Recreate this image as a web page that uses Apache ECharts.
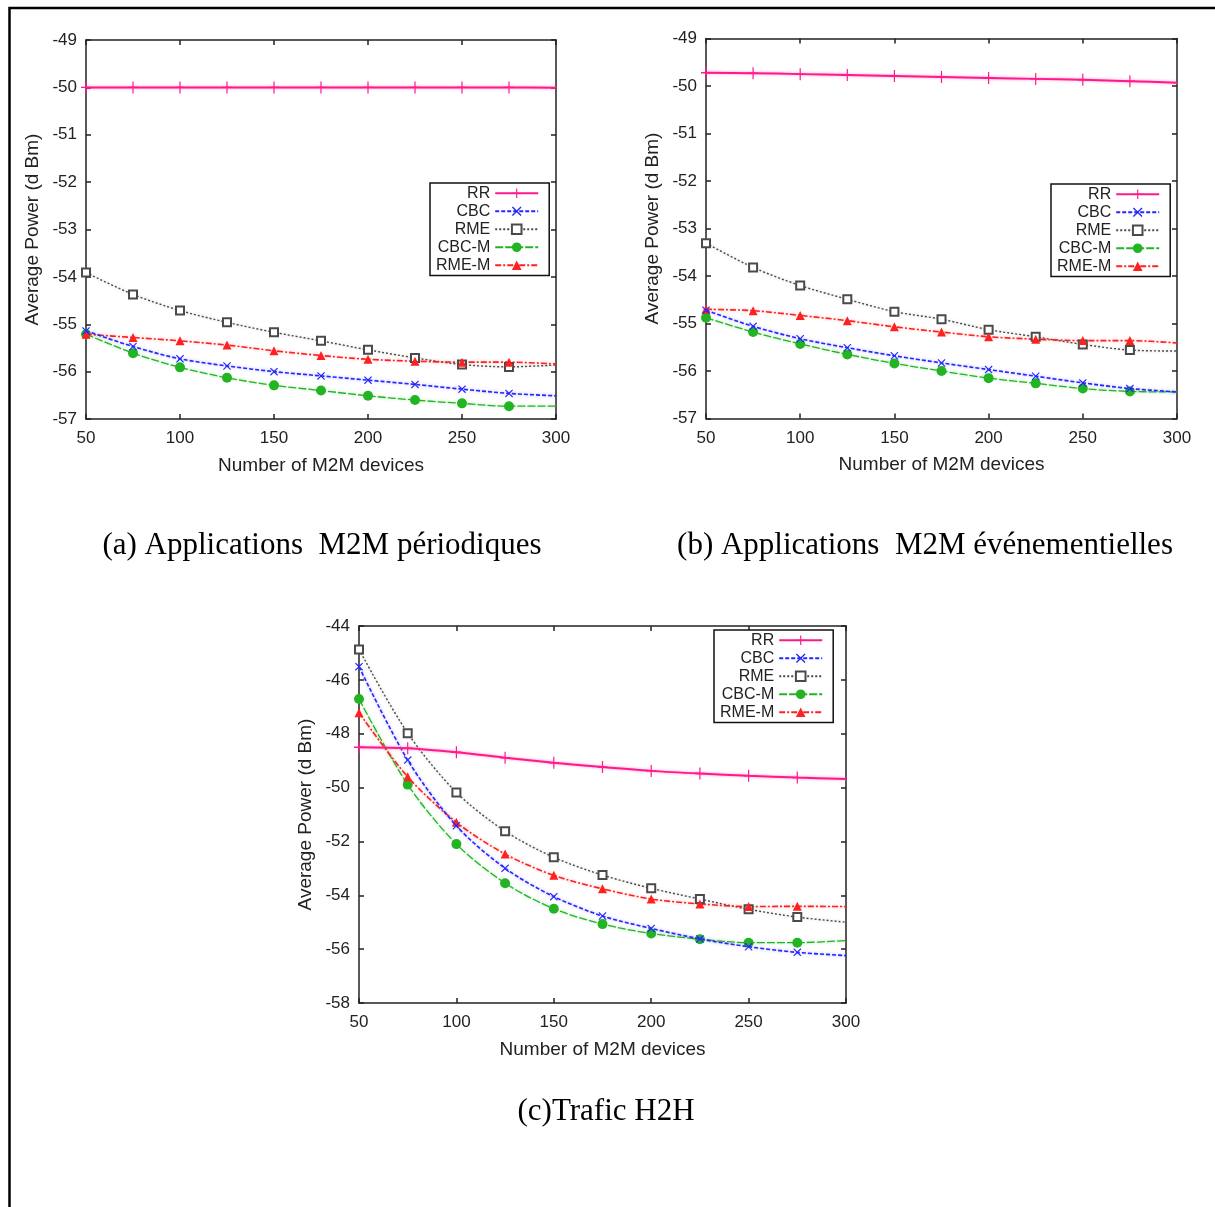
<!DOCTYPE html>
<html><head><meta charset="utf-8">
<script src="https://cdn.jsdelivr.net/npm/echarts@6/dist/echarts.min.js"></script>
<style>html,body{margin:0;padding:0;background:#fff;overflow:hidden}#c{width:1215px;height:1207px}</style>
</head><body><div id="c"></div>
<script>
// ---- data ----
const devices = [50, 75, 100, 125, 150, 175, 200, 225, 250, 275, 300];
const seriesNames = ['RR', 'CBC', 'RME', 'CBC-M', 'RME-M'];

// (a) Applications M2M périodiques
const a_RR   = [-50.00, -50.00, -50.00, -50.00, -50.00, -50.00, -50.00, -50.00, -50.00, -50.00, -50.01];
const a_CBC  = [-55.14, -55.47, -55.73, -55.88, -56.00, -56.09, -56.18, -56.27, -56.37, -56.46, -56.51];
const a_RME  = [-53.91, -54.37, -54.71, -54.96, -55.17, -55.35, -55.54, -55.71, -55.85, -55.90, -55.86];
const a_CBCM = [-55.21, -55.61, -55.91, -56.13, -56.29, -56.40, -56.51, -56.60, -56.67, -56.73, -56.73];
const a_RMEM = [-55.21, -55.28, -55.35, -55.44, -55.56, -55.66, -55.74, -55.78, -55.80, -55.80, -55.84];

// (b) Applications M2M événementielles
const b_RR   = [-49.72, -49.73, -49.75, -49.77, -49.79, -49.81, -49.83, -49.85, -49.87, -49.90, -49.93];
const b_CBC  = [-54.72, -55.06, -55.32, -55.51, -55.68, -55.83, -55.97, -56.11, -56.25, -56.37, -56.44];
const b_RME  = [-53.31, -53.82, -54.20, -54.49, -54.75, -54.91, -55.13, -55.28, -55.44, -55.56, -55.58];
const b_CBCM = [-54.88, -55.18, -55.43, -55.65, -55.84, -56.00, -56.15, -56.26, -56.37, -56.43, -56.44];
const b_RMEM = [-54.70, -54.73, -54.83, -54.94, -55.07, -55.18, -55.28, -55.33, -55.36, -55.36, -55.41];

// (c) Trafic H2H
const c_RR   = [-48.50, -48.54, -48.69, -48.89, -49.08, -49.24, -49.38, -49.48, -49.56, -49.63, -49.68];
const c_CBC  = [-45.51, -48.98, -51.42, -53.00, -54.05, -54.77, -55.23, -55.62, -55.91, -56.12, -56.24];
const c_RME  = [-44.87, -47.98, -50.18, -51.62, -52.59, -53.25, -53.74, -54.14, -54.52, -54.81, -55.00];
const c_CBCM = [-46.71, -49.89, -52.10, -53.55, -54.50, -55.07, -55.42, -55.63, -55.76, -55.76, -55.68];
const c_RMEM = [-47.22, -49.60, -51.29, -52.47, -53.26, -53.76, -54.14, -54.32, -54.42, -54.41, -54.42];

const yRangeAB = {min: -57, max: -49, interval: 1};
const yRangeC  = {min: -58, max: -44, interval: 2};
const xRange   = {min: 50, max: 300, interval: 50};

const captions = ['(a) Applications  M2M périodiques', '(b) Applications  M2M événementielles', '(c)Trafic H2H'];
const xTitle = 'Number of M2M devices';
const yTitle = 'Average Power (d Bm)';

// ---- styles ----
const FONT = "'Liberation Sans',Arial,sans-serif";
const PLUS = 'path://M-1.2,-10H1.2V-1.2H10V1.2H1.2V10H-1.2V1.2H-10V-1.2H-1.2Z';
const XMARK = 'path://M-10,-8L-8,-10L0,-2L8,-10L10,-8L2,0L10,8L8,10L0,2L-8,10L-10,8L-2,0Z';
const styles = {
  'RR':    {color: '#ff1a8c', symbol: PLUS, size: [10, 12], type: 'solid', width: 2, glow: 'rgba(255,80,160,0.6)', z: 6},
  'CBC':   {color: '#2626ff', symbol: XMARK, size: 8, type: [4, 2], width: 1.6, glow: 'rgba(90,90,255,0.5)', z: 5},
  'RME':   {color: '#4a4a4a', symbol: 'emptyRect', size: 8, type: [2, 2], width: 1.4, glow: 'rgba(120,120,120,0.4)', z: 4},
  'CBC-M': {color: '#22b422', symbol: 'circle', size: 10, type: [8, 2], width: 1.3, glow: 'rgba(80,200,80,0.5)', z: 3},
  'RME-M': {color: '#ff2020', symbol: 'triangle', size: 9, type: [6, 2, 2, 2], width: 1.6, glow: 'rgba(255,90,90,0.45)', z: 4}
};

const gridsData = [
  [a_RR, a_CBC, a_RME, a_CBCM, a_RMEM],
  [b_RR, b_CBC, b_RME, b_CBCM, b_RMEM],
  [c_RR, c_CBC, c_RME, c_CBCM, c_RMEM]
];
const grids = [
  {left: 86, top: 40, width: 470, height: 379},
  {left: 706, top: 38.5, width: 471, height: 380},
  {left: 359, top: 626, width: 487, height: 377}
];
const yRanges = [yRangeAB, yRangeAB, yRangeC];

const axisLineStyle = {color: '#222', width: 1.5};
const xAxes = [], yAxes = [], series = [];
grids.forEach((g, gi) => {
  xAxes.push({type: 'value', gridIndex: gi, ...xRange, position: 'bottom',
    axisLine: {show: true, onZero: false, lineStyle: axisLineStyle},
    axisTick: {show: true, inside: true, length: 5, lineStyle: axisLineStyle},
    splitLine: {show: false},
    axisLabel: {color: '#222', fontFamily: FONT, fontSize: 17, margin: 11},
    name: xTitle, nameLocation: 'middle', nameGap: 37,
    nameTextStyle: {color: '#222', fontFamily: FONT, fontSize: 19}});
  xAxes.push({type: 'value', gridIndex: gi, ...xRange, position: 'top',
    axisLine: {show: true, onZero: false, lineStyle: axisLineStyle},
    axisTick: {show: true, inside: true, length: 5, lineStyle: axisLineStyle},
    splitLine: {show: false}, axisLabel: {show: false}});
  yAxes.push({type: 'value', gridIndex: gi, ...yRanges[gi], position: 'left',
    axisLine: {show: true, onZero: false, lineStyle: axisLineStyle},
    axisTick: {show: true, inside: true, length: 5, lineStyle: axisLineStyle},
    splitLine: {show: false},
    axisLabel: {color: '#222', fontFamily: FONT, fontSize: 17, margin: 9},
    name: yTitle, nameLocation: 'middle', nameGap: 44,
    nameTextStyle: {color: '#222', fontFamily: FONT, fontSize: 19}});
  yAxes.push({type: 'value', gridIndex: gi, ...yRanges[gi], position: 'right',
    axisLine: {show: true, onZero: false, lineStyle: axisLineStyle},
    axisTick: {show: true, inside: true, length: 5, lineStyle: axisLineStyle},
    splitLine: {show: false}, axisLabel: {show: false}});
  seriesNames.forEach((name, si) => {
    const st = styles[name];
    const vals = gridsData[gi][si];
    series.push({
      type: 'line', name, xAxisIndex: gi * 2, yAxisIndex: gi * 2,
      data: devices.map((d, i) => i === devices.length - 1 ? {value: [d, vals[i]], symbol: 'none'} : [d, vals[i]]),
      smooth: 0.3,
      symbol: st.symbol, symbolSize: st.size, showAllSymbol: true,
      lineStyle: {color: st.color, width: st.width, type: st.type, shadowColor: st.glow, shadowBlur: 3},
      itemStyle: {color: st.color, borderColor: st.color, borderWidth: st.symbol === 'emptyRect' ? 1.6 : 0},
      z: st.z, animation: false
    });
  });
});

const legendPos = [{left: 430, top: 183}, {left: 1051, top: 184}, {left: 714, top: 630}];
const legends = legendPos.map(p => ({
  ...p, orient: 'vertical', align: 'right', data: seriesNames, selectedMode: false,
  itemWidth: 43, itemHeight: 12, itemGap: 1.5, padding: [2, 10, 2, 6],
  borderColor: '#111', borderWidth: 1.5, backgroundColor: '#fff', borderRadius: 0,
  textStyle: {color: '#222', fontFamily: FONT, fontSize: 16, lineHeight: 16.5}
}));

const capPos = [[322, 546], [925, 546], [606, 1112]];
const graphics = [
  {type: 'rect', silent: true, shape: {x: 9.5, y: 8, width: 1400, height: 1400},
   style: {fill: 'none', stroke: '#000', lineWidth: 2.5}}
].concat(captions.map((t, i) => ({
  type: 'text', x: capPos[i][0], y: capPos[i][1], silent: true,
  style: {text: t, fill: '#000', font: "31px 'Liberation Serif','Times New Roman',serif",
          align: 'center', verticalAlign: 'middle'}
})));

const chart = echarts.init(document.getElementById('c'), null, {renderer: 'canvas'});
chart.setOption({
  backgroundColor: '#fff', animation: false,
  grid: grids, xAxis: xAxes, yAxis: yAxes, series, legend: legends, graphic: graphics
});
</script></body></html>
